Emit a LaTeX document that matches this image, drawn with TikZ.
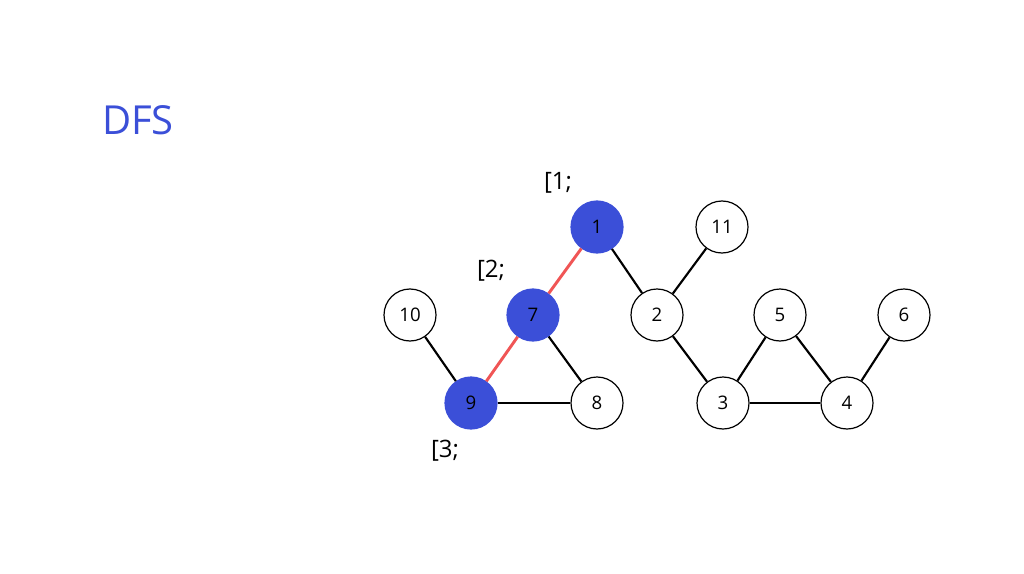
\documentclass[tikz,border=0pt]{standalone}
\usepackage{fontspec}
\setmainfont{Open Sans}
\usepackage{tikz}
\definecolor{dfsblue}{HTML}{3B4FD8}
\definecolor{treered}{HTML}{F05555}

\begin{document}
\begin{tikzpicture}[
  x=0.75pt, y=-0.75pt,
  vert/.style={circle, draw=black, line width=0.9pt, fill=white,
    minimum size=39pt, inner sep=0pt, font=\fontsize{14}{16}\selectfont},
  seen/.style={vert, draw=dfsblue, fill=dfsblue},
  edge/.style={line width=1.6pt},
  treeedge/.style={line width=2.2pt, treered},
  lab/.style={font=\fontsize{18}{20}\selectfont}
]
\useasboundingbox (0,0) rectangle (1024,574);
% ---- title ----
\node[font=\fontsize{30}{34}\selectfont, text=dfsblue] (title) at (138,120) {DFS};
% ---- vertices ----
\node[seen] (v1) at (597,227) {1};
\node[vert] (v11) at (722,227) {11};
\node[vert] (v10) at (410,315) {10};
\node[seen] (v7) at (533,315) {7};
\node[vert] (v2) at (657,315) {2};
\node[vert] (v5) at (780,315) {5};
\node[vert] (v6) at (904,315) {6};
\node[seen] (v9) at (471,403) {9};
\node[vert] (v8) at (597,403) {8};
\node[vert] (v3) at (723,403) {3};
\node[vert] (v4) at (847,403) {4};
% ---- edges ----
\draw[treeedge] (v1) -- (v7);
\draw[treeedge] (v7) -- (v9);
\draw[edge] (v1) -- (v2);
\draw[edge] (v2) -- (v11);
\draw[edge] (v2) -- (v3);
\draw[edge] (v10) -- (v9);
\draw[edge] (v9) -- (v8);
\draw[edge] (v7) -- (v8);
\draw[edge] (v3) -- (v5);
\draw[edge] (v5) -- (v4);
\draw[edge] (v3) -- (v4);
\draw[edge] (v4) -- (v6);
% ---- entry times ----
\node[lab] (t1) at (558,183) {[1;};
\node[lab] (t2) at (491,271) {[2;};
\node[lab] (t3) at (445,451) {[3;};
\end{tikzpicture}
\end{document}
